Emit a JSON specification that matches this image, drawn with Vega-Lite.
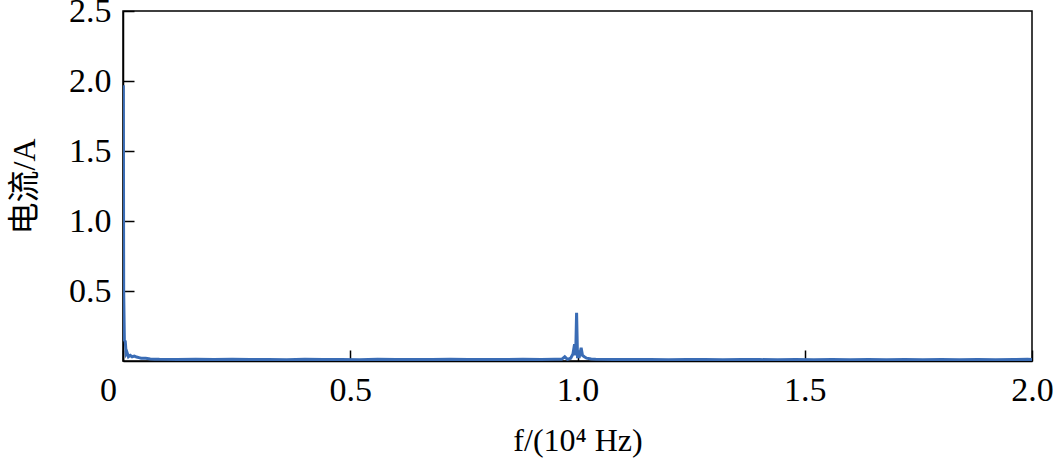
{
  "$schema": "https://vega.github.io/schema/vega-lite/v6.json",
  "autosize": {"type": "none"},
  "width": 909,
  "height": 350,
  "padding": {"left": 123, "top": 11, "right": 21, "bottom": 100},
  "background": "white",
  "config": {
    "view": {"stroke": "black", "strokeWidth": 1.5},
    "axis": {
      "labelFont": "Liberation Serif",
      "titleFont": "Liberation Serif, Noto Sans CJK SC",
      "labelFontSize": 34,
      "titleFontSize": 32,
      "labelColor": "black",
      "titleColor": "black",
      "titleFontWeight": "normal",
      "domainColor": "black",
      "domainWidth": 1.5,
      "tickColor": "black",
      "tickWidth": 1.5,
      "tickSize": -11,
      "grid": false
    }
  },
  "data": {
    "values": [
      {"f": 0.0, "i": 0.48},
      {"f": 0.0008, "i": 1.97},
      {"f": 0.0015, "i": 0.5},
      {"f": 0.003, "i": 0.15},
      {"f": 0.005, "i": 0.14},
      {"f": 0.007, "i": 0.05},
      {"f": 0.009, "i": 0.06},
      {"f": 0.012, "i": 0.03},
      {"f": 0.016, "i": 0.04},
      {"f": 0.02, "i": 0.03},
      {"f": 0.025, "i": 0.035},
      {"f": 0.03, "i": 0.028},
      {"f": 0.035, "i": 0.024},
      {"f": 0.04, "i": 0.02},
      {"f": 0.05, "i": 0.019},
      {"f": 0.06, "i": 0.015},
      {"f": 0.07, "i": 0.013},
      {"f": 0.08, "i": 0.012},
      {"f": 0.12, "i": 0.011},
      {"f": 0.16, "i": 0.013},
      {"f": 0.2, "i": 0.01},
      {"f": 0.24, "i": 0.012},
      {"f": 0.28, "i": 0.01},
      {"f": 0.32, "i": 0.011},
      {"f": 0.36, "i": 0.009},
      {"f": 0.4, "i": 0.012},
      {"f": 0.44, "i": 0.01},
      {"f": 0.48, "i": 0.011},
      {"f": 0.52, "i": 0.009},
      {"f": 0.56, "i": 0.012},
      {"f": 0.6, "i": 0.01},
      {"f": 0.64, "i": 0.011},
      {"f": 0.68, "i": 0.01},
      {"f": 0.72, "i": 0.012},
      {"f": 0.76, "i": 0.01},
      {"f": 0.8, "i": 0.011},
      {"f": 0.84, "i": 0.01},
      {"f": 0.88, "i": 0.012},
      {"f": 0.92, "i": 0.011},
      {"f": 0.95, "i": 0.013},
      {"f": 0.965, "i": 0.012},
      {"f": 0.972, "i": 0.03},
      {"f": 0.978, "i": 0.012},
      {"f": 0.985, "i": 0.02},
      {"f": 0.99, "i": 0.05},
      {"f": 0.9935, "i": 0.12},
      {"f": 0.996, "i": 0.04},
      {"f": 0.998, "i": 0.345},
      {"f": 1.0, "i": 0.03},
      {"f": 1.004, "i": 0.03},
      {"f": 1.008, "i": 0.095},
      {"f": 1.011, "i": 0.04},
      {"f": 1.015, "i": 0.03},
      {"f": 1.02, "i": 0.02},
      {"f": 1.03, "i": 0.014},
      {"f": 1.04, "i": 0.012},
      {"f": 1.08, "i": 0.011},
      {"f": 1.12, "i": 0.01},
      {"f": 1.16, "i": 0.011},
      {"f": 1.2, "i": 0.009},
      {"f": 1.24, "i": 0.011},
      {"f": 1.28, "i": 0.01},
      {"f": 1.32, "i": 0.009},
      {"f": 1.36, "i": 0.011},
      {"f": 1.4, "i": 0.01},
      {"f": 1.44, "i": 0.009},
      {"f": 1.48, "i": 0.01},
      {"f": 1.52, "i": 0.009},
      {"f": 1.56, "i": 0.011},
      {"f": 1.6, "i": 0.009},
      {"f": 1.64, "i": 0.01},
      {"f": 1.68, "i": 0.009},
      {"f": 1.72, "i": 0.01},
      {"f": 1.76, "i": 0.009},
      {"f": 1.8, "i": 0.01},
      {"f": 1.84, "i": 0.009},
      {"f": 1.88, "i": 0.01},
      {"f": 1.92, "i": 0.009},
      {"f": 1.96, "i": 0.01},
      {"f": 1.99, "i": 0.012},
      {"f": 2.0, "i": 0.01}
    ]
  },
  "mark": {"type": "line", "color": "#3A6CB5", "strokeWidth": 3, "clip": true},
  "encoding": {
    "x": {
      "field": "f",
      "type": "quantitative",
      "scale": {"domain": [0, 2], "nice": false, "zero": false},
      "axis": {
        "title": "f/(10⁴ Hz)",
        "values": [0, 0.5, 1, 1.5, 2],
        "labelExpr": "datum.value == 0 ? '0' : format(datum.value, '.1f')",
        "labelOffset": {"expr": "datum.value == 0 ? -15 : 0"},
        "labelPadding": 23,
        "titlePadding": 18,
        "labelFlush": false
      }
    },
    "y": {
      "field": "i",
      "type": "quantitative",
      "scale": {"domain": [0, 2.5], "nice": false},
      "axis": {
        "title": "电流/A",
        "values": [0.5, 1, 1.5, 2, 2.5],
        "format": ".1f",
        "labelPadding": 23,
        "titlePadding": 27,
        "labelFlush": false
      }
    }
  }
}
